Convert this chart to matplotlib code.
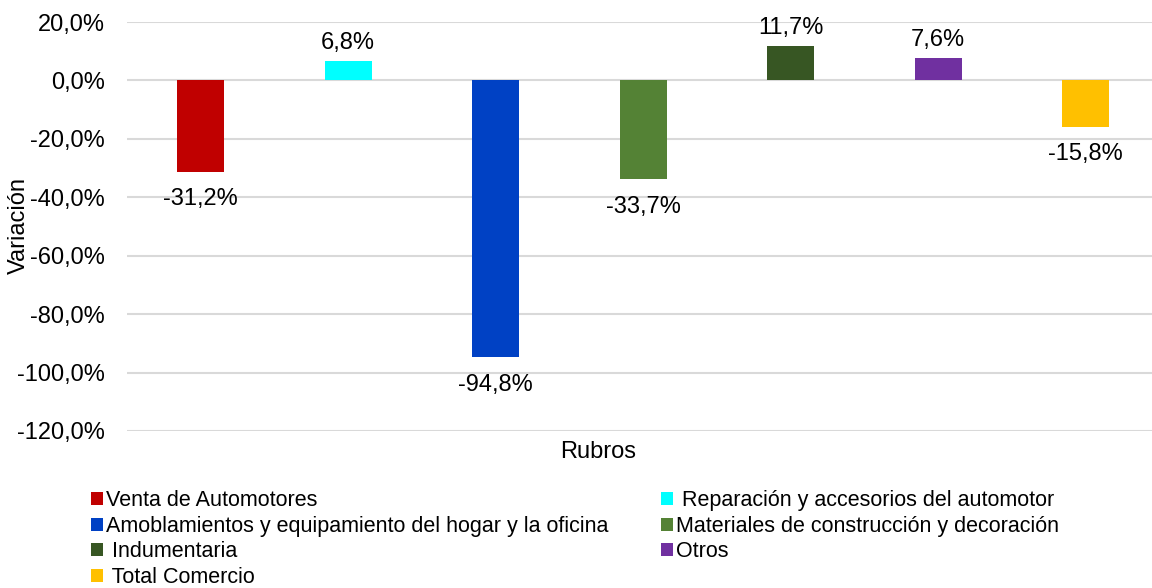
import matplotlib
matplotlib.use("Agg")
import matplotlib.pyplot as plt
from matplotlib.patches import Patch

plt.rcParams['font.family'] = ['Liberation Sans', 'DejaVu Sans']

# Year-on-year variation by retail category (%)
rubros = [
    "Venta de Automotores",
    " Reparación y accesorios del automotor",
    "Amoblamientos y equipamiento del hogar y la oficina",
    "Materiales de construcción y decoración",
    " Indumentaria",
    "Otros",
    " Total Comercio",
]
variacion = [-31.2, 6.8, -94.8, -33.7, 11.7, 7.6, -15.8]
colores = ["#C00000", "#00FFFF", "#0041C4", "#548235", "#375623", "#7030A0", "#FFC000"]
y_ticks = [20, 0, -20, -40, -60, -80, -100, -120]


def fmt_pct(v):
    return f"{v:.1f}%".replace(".", ",")


FS = 17

fig = plt.figure(figsize=(11.52, 5.88), dpi=100)
ax = fig.add_axes([127 / 1152, 1 - 431 / 588, (1152 - 127) / 1152, (431 - 22) / 588])

xs = list(range(len(rubros)))
bars = ax.bar(xs, variacion, width=0.32, color=colores, zorder=3)

for x, v in zip(xs, variacion):
    if v >= 0:
        ax.annotate(fmt_pct(v), (x, v), xytext=(0, 5), textcoords="offset points",
                    ha="center", va="bottom", fontsize=FS)
    else:
        ax.annotate(fmt_pct(v), (x, v), xytext=(0, -12), textcoords="offset points",
                    ha="center", va="top", fontsize=FS)

ax.set_ylim(-120, 20)
ax.set_xlim(-0.5, 6.45)
ax.set_yticks(y_ticks)
ax.set_yticklabels([fmt_pct(t) for t in y_ticks], fontsize=FS)
ax.set_xticks([])
ax.tick_params(axis="y", length=0, pad=16)
ax.grid(axis="y", color="#D9D9D9", linewidth=1.5, zorder=0)
for s in ax.spines.values():
    s.set_visible(False)

fig.text(19 / 1152, 1 - 226 / 588, "Variación", rotation=90, ha="center", va="center", fontsize=FS)
fig.text(598 / 1152, 1 - 452 / 588, "Rubros", ha="center", va="center", fontsize=FS)

# Legend: row-major order across two columns
order = [0, 2, 4, 6, 1, 3, 5]
handles = [Patch(facecolor=colores[i], edgecolor="none") for i in order]
labels = [rubros[i] for i in order]
fig.legend(handles, labels, ncol=2, loc="upper left",
           bbox_to_anchor=(91 / 1152, 1 - 490 / 588), frameon=False,
           fontsize=15.5, handlelength=0.55, handleheight=0.55, handletextpad=0.15,
           labelspacing=0.22, columnspacing=2.45, borderaxespad=0, borderpad=0)

fig.savefig("out.png", dpi=100)
